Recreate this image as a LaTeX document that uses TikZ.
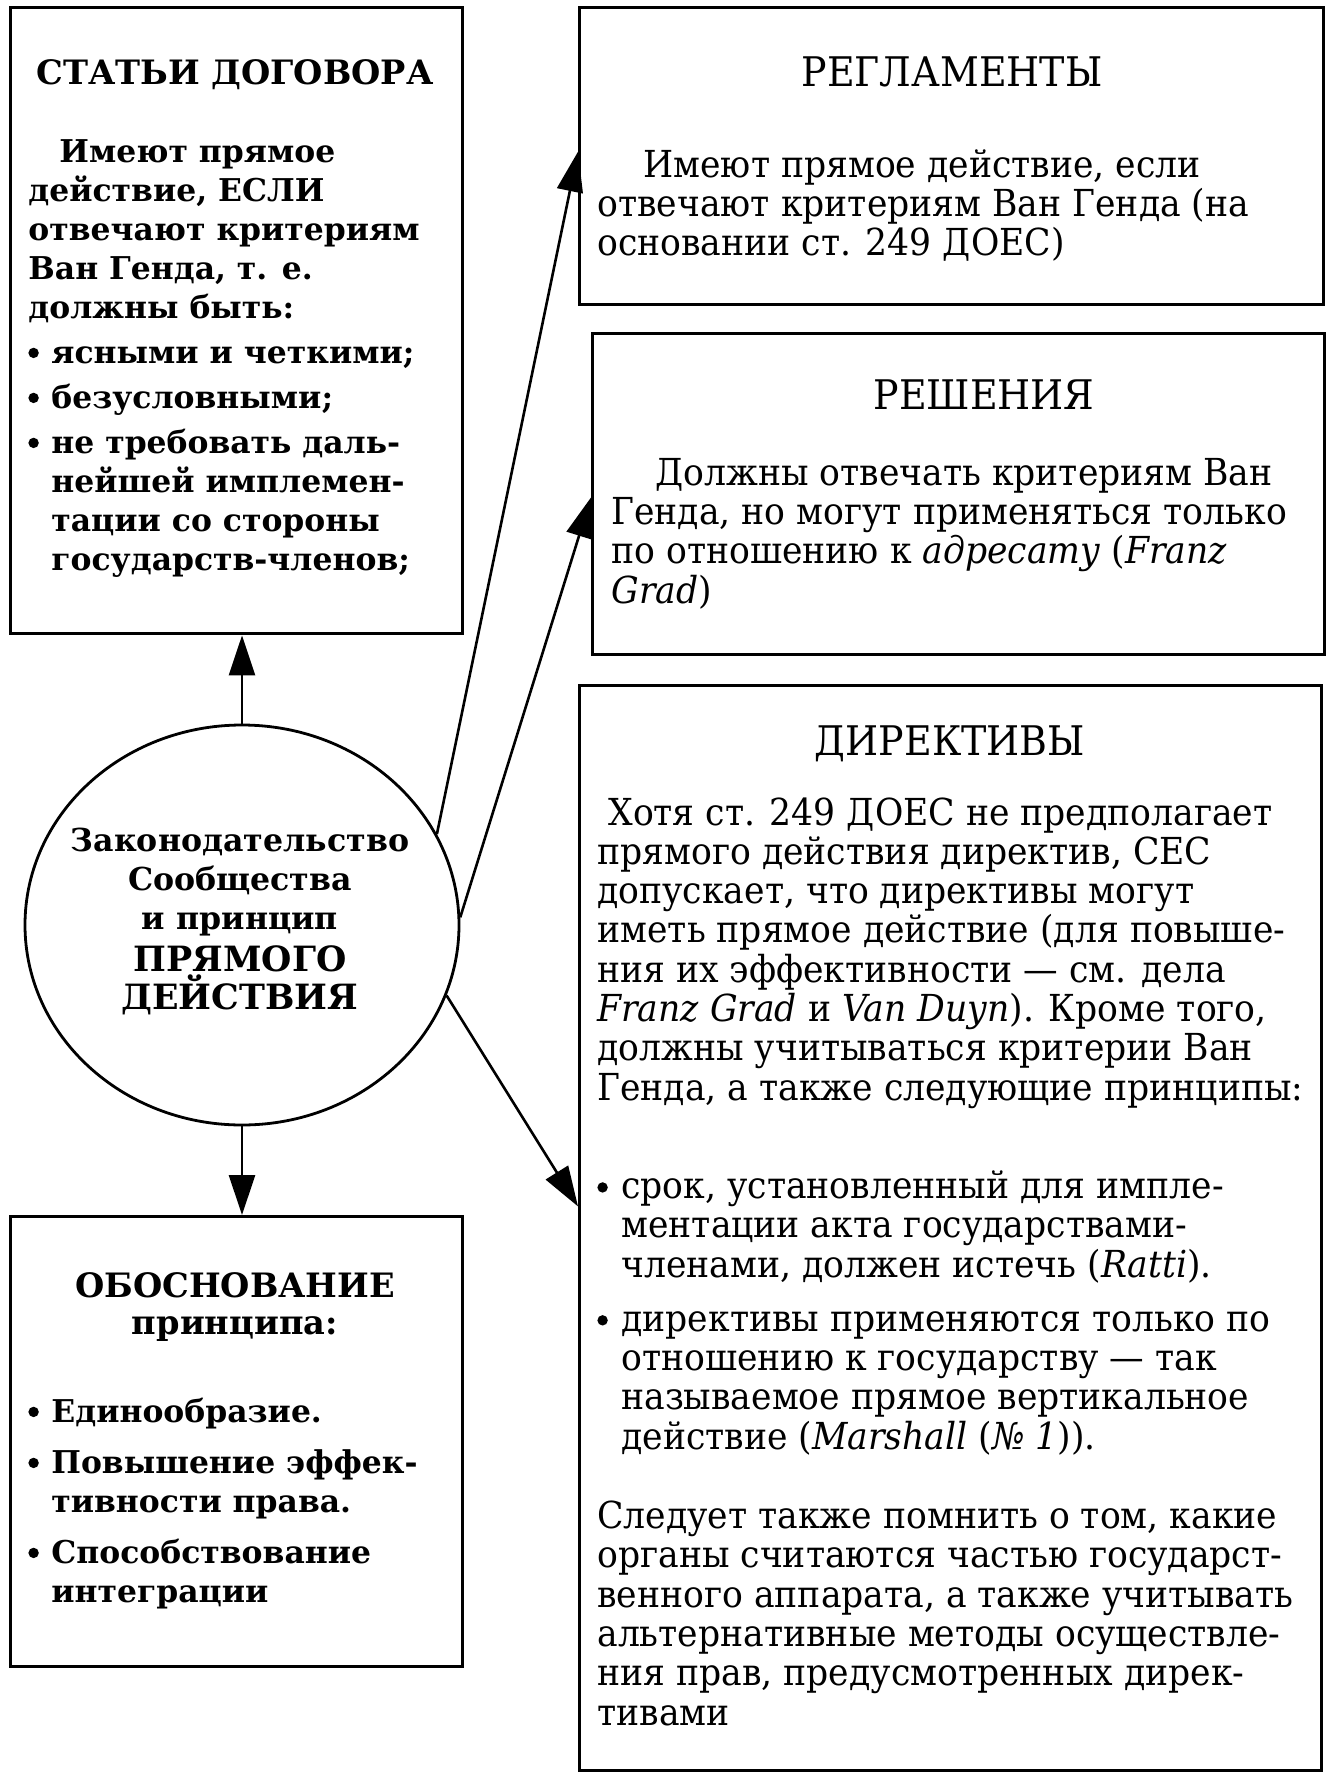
\documentclass[tikz,border=0pt]{standalone}
\usepackage{fontspec}
\setmainfont{DejaVu Serif}
\newfontfamily\rfont[FakeStretch=0.93]{DejaVu Serif}
\usetikzlibrary{shapes.geometric,arrows.meta,calc}
\newcommand\bdot{\raisebox{0.3ex}{\rule{0pt}{0pt}\tikz[x=1pt,y=1pt,baseline=-2.6pt]\fill (2.6pt,0) circle[radius=2.6pt];}}
\newcommand\bulL{\makebox[11.5pt][l]{\bdot}}
\newcommand\bulR{\makebox[12pt][l]{\bdot}}
\begin{document}
\begin{tikzpicture}[x=0.5pt,y=-0.5pt,
  box/.style={draw, line width=1.7pt, inner sep=0pt, anchor=north west},
  arr/.style={line width=1.3pt, -{Triangle[length=20pt,width=13pt]}},
  lhead/.style={inner sep=0pt, anchor=base, align=center, font=\fontsize{16.8}{18.5}\selectfont\bfseries},
  ltxt/.style={inner sep=0pt, anchor=base west, align=left, font=\fontsize{15.7}{19.5}\selectfont\bfseries},
  ctxt/.style={inner sep=0pt, anchor=base, align=center, font=\fontsize{15.8}{19.5}\selectfont\bfseries},
  rhead/.style={inner sep=0pt, anchor=base, font=\rfont\fontsize{20.4}{22}\selectfont},
  rtxt/.style={inner sep=0pt, anchor=base west, align=left, font=\rfont\fontsize{18.6}{19.65}\selectfont}
]
\useasboundingbox (0,0) rectangle (1326,1776);
\fill[white] (0,0) rectangle (1326,1776);

% boxes
\node[box, minimum width=226pt, minimum height=313pt] (stat) at (9,6) {};
\node[box, minimum width=372pt, minimum height=148.5pt] (reg) at (578,6) {};
\node[box, minimum width=366pt, minimum height=160.5pt] (resh) at (591,332) {};
\node[box, minimum width=371pt, minimum height=542.5pt] (dir) at (578,684) {};
\node[box, minimum width=226pt, minimum height=225pt] (obos) at (9,1215) {};

% central ellipse and its text
\node[ellipse, draw, line width=1.4pt, minimum width=217pt, minimum height=200pt,
  inner sep=0pt] (circ) at (242,925) {};
\node[ctxt] (circT) at (240,1009) {Законодательство\\ Сообщества\\ и принцип\\[1.5pt]
  {\fontsize{17.4}{19.5}\selectfont ПРЯМОГО}\\[-0.5pt] {\fontsize{17.4}{19.5}\selectfont ДЕЙСТВИЯ}};

% texts, left column (anchored at the baseline of the last line)
\node[lhead] (statH) at (235,85) {СТАТЬИ ДОГОВОРА};
\node[ltxt] (statT) at (28,570) {\hspace*{15.5pt}Имеют прямое\\
действие, ЕСЛИ\\
отвечают критериям\\
Ван Генда, т. е.\\
должны быть:\\[3pt]
\bulL ясными и четкими;\\[3pt]
\bulL безусловными;\\[3pt]
\bulL не требовать даль-\\
\hspace*{11.5pt}нейшей имплемен-\\
\hspace*{11.5pt}тации со стороны\\
\hspace*{11.5pt}государств-членов;};

\node[lhead] (obosH) at (235,1334) {ОБОСНОВАНИЕ\\ принципа:};
\node[ltxt] (obosT) at (28,1602) {\bulL Единообразие.\\[6pt]
\bulL Повышение эффек-\\
\hspace*{11.5pt}тивности права.\\[6pt]
\bulL Способствование\\
\hspace*{11.5pt}интеграции};

% texts, right column
\node[rhead] (regH) at (952,87) {РЕГЛАМЕНТЫ};
\node[rtxt] (regT) at (597,256) {\hspace*{23pt}Имеют прямое действие, если\\
отвечают критериям Ван Генда (на\\
основании ст. 249 ДОЕС)};

\node[rhead] (reshH) at (984,409) {РЕШЕНИЯ};
\node[rtxt] (reshT) at (611,603) {\hspace*{22pt}Должны отвечать критериям Ван\\
Генда, но могут применяться только\\
по отношению к \textit{адресату} (\textit{Franz}\\
\textit{Grad})};

\node[rhead] (dirH) at (950,755) {ДИРЕКТИВЫ};
\node[rtxt] (dirT) at (597,1725) {\hspace*{5.5pt}Хотя ст. 249 ДОЕС не предполагает\\
прямого действия директив, СЕС\\
допускает, что директивы могут\\
иметь прямое действие (для повыше-\\
ния их эффективности — см. дела\\
\textit{Franz Grad} и \textit{Van Duyn}). Кроме того,\\
должны учитываться критерии Ван\\
Генда, а также следующие принципы:\\[29.5pt]
\bulR срок, установленный для импле-\\
\hspace*{12pt}ментации акта государствами-\\
\hspace*{12pt}членами, должен истечь (\textit{Ratti}).\\[7.5pt]
\bulR директивы применяются только по\\
\hspace*{12pt}отношению к государству — так\\
\hspace*{12pt}называемое прямое вертикальное\\
\hspace*{12pt}действие (\textit{Marshall} (\textit{№ 1})).\\[20pt]
Следует также помнить о том, какие\\
органы считаются частью государст-\\
венного аппарата, а также учитывать\\
альтернативные методы осуществле-\\
ния прав, предусмотренных дирек-\\
тивами};

% connectors
\draw[arr] (circ.north) -- (circ.north |- stat.south);
\draw[arr] (circ.south) -- (circ.south |- obos.north);
\draw[arr] (circ.25) -- ($(reg.north west)!0.485!(reg.south west)$);
\draw[arr] (circ.2) -- ($(resh.north west)!0.51!(resh.south west)$);
\draw[arr] (circ.-19) -- ($(dir.north west)!0.48!(dir.south west)$);
\end{tikzpicture}
\end{document}
